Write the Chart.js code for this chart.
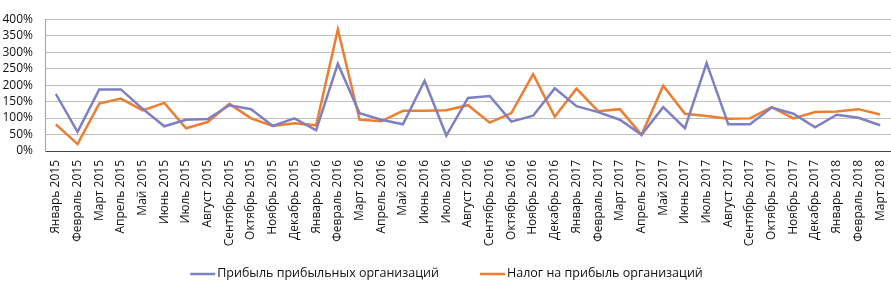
<!DOCTYPE html>
<html>
<head>
<meta charset="utf-8">
<script src="https://cdn.jsdelivr.net/npm/chart.js@4"></script>
<style>
  html, body { margin: 0; padding: 0; background: #fff; }
  #wrap { width: 891px; height: 281px; }
</style>
</head>
<body>
<div id="wrap"><canvas id="myChart" width="891" height="281"></canvas></div>
<script>
// months Jan 2015 - Mar 2018
const months = ['Январь 2015', 'Февраль 2015', 'Март 2015', 'Апрель 2015', 'Май 2015', 'Июнь 2015',
  'Июль 2015', 'Август 2015', 'Сентябрь 2015', 'Октябрь 2015', 'Ноябрь 2015', 'Декабрь 2015',
  'Январь 2016', 'Февраль 2016', 'Март 2016', 'Апрель 2016', 'Май 2016', 'Июнь 2016',
  'Июль 2016', 'Август 2016', 'Сентябрь 2016', 'Октябрь 2016', 'Ноябрь 2016', 'Декабрь 2016',
  'Январь 2017', 'Февраль 2017', 'Март 2017', 'Апрель 2017', 'Май 2017', 'Июнь 2017',
  'Июль 2017', 'Август 2017', 'Сентябрь 2017', 'Октябрь 2017', 'Ноябрь 2017', 'Декабрь 2017',
  'Январь 2018', 'Февраль 2018', 'Март 2018'];

// values in %
const profit = [173, 58, 187, 187, 128, 75, 95, 97, 139, 127, 76, 99,
  63, 265, 115, 95, 81, 213, 47, 161, 167, 89, 107, 190,
  136, 118, 95, 49, 133, 69, 267, 81, 81, 132, 113, 72,
  110, 101, 78];
const tax = [81, 21, 144, 159, 123, 146, 69, 88, 143, 99, 76, 84,
  78, 369, 95, 90, 122, 122, 124, 139, 86, 115, 233, 104,
  189, 121, 127, 49, 198, 113, 106, 98, 99, 133, 99, 118,
  120, 127, 111];

const yTicks = [0, 50, 100, 150, 200, 250, 300, 350, 400];

const FONT = 'Open Sans';

// legend drawn by hand so the spacing looks like the excel one
const bottomLegend = {
  id: 'bottomLegend',
  afterDraw: function (chart) {
    const c = chart.ctx;
    const sets = chart.data.datasets;
    c.save();
    c.font = '12.5px "' + FONT + '"';
    c.textBaseline = 'middle';
    c.textAlign = 'left';
    const lineW = 25, gapText = 2, gapItems = 41;
    let total = 0;
    sets.forEach(function (ds, i) {
      total += lineW + gapText + c.measureText(ds.label).width;
      if (i > 0) total += gapItems;
    });
    let x = chart.width / 2 - total / 2 + 1;
    const y = 273;
    sets.forEach(function (ds) {
      c.strokeStyle = ds.borderColor;
      c.lineWidth = 2.5;
      c.beginPath();
      c.moveTo(x, y + 1);
      c.lineTo(x + lineW, y + 1);
      c.stroke();
      x += lineW + gapText;
      c.fillStyle = '#111';
      c.fillText(ds.label, x, y);
      x += c.measureText(ds.label).width + gapItems;
    });
    c.restore();
  }
};

const ctx = document.getElementById('myChart').getContext('2d');
const config = {
  type: 'line',
  data: {
    labels: months,
    datasets: [{
      label: 'Прибыль прибыльных организаций',
      data: profit,
      borderColor: '#7F7FC4',
      backgroundColor: '#7F7FC4',
      borderWidth: 2.5,
      pointRadius: 0,
      tension: 0
    }, {
      label: 'Налог на прибыль организаций',
      data: tax,
      borderColor: '#ED7D31',
      backgroundColor: '#ED7D31',
      borderWidth: 2.5,
      pointRadius: 0,
      tension: 0
    }]
  },
  options: {
    responsive: false,
    animation: false,
    layout: { padding: { top: 5, right: 0, left: 0, bottom: 24 } },
    plugins: {
      legend: { display: false },
      tooltip: { enabled: false }
    },
    scales: {
      x: {
        offset: true,
        afterFit: function (axis) {
          axis.height = 106;
          axis.paddingRight = 0;
          axis.paddingLeft = 0;
        },
        grid: { display: false, drawTicks: false },
        border: { color: '#444', width: 1 },
        ticks: {
          autoSkip: false,
          minRotation: 90,
          maxRotation: 90,
          padding: 9,
          color: '#111',
          font: { family: FONT, size: 12 }
        }
      },
      y: {
        min: 0,
        max: 400,
        afterFit: function (axis) { axis.width = 45; },
        afterBuildTicks: function (axis) {
          axis.ticks = yTicks.map(function (v) { return { value: v }; });
        },
        grid: { color: '#C0C0C0', drawTicks: false },
        border: { color: '#A0A0A0' },
        ticks: {
          autoSkip: false,
          padding: 12,
          color: '#111',
          font: { family: FONT, size: 12 },
          callback: function (v) { return v + '%'; }
        }
      }
    }
  },
  plugins: [bottomLegend]
};
const myChart = new Chart(ctx, config);
</script>
</body>
</html>
